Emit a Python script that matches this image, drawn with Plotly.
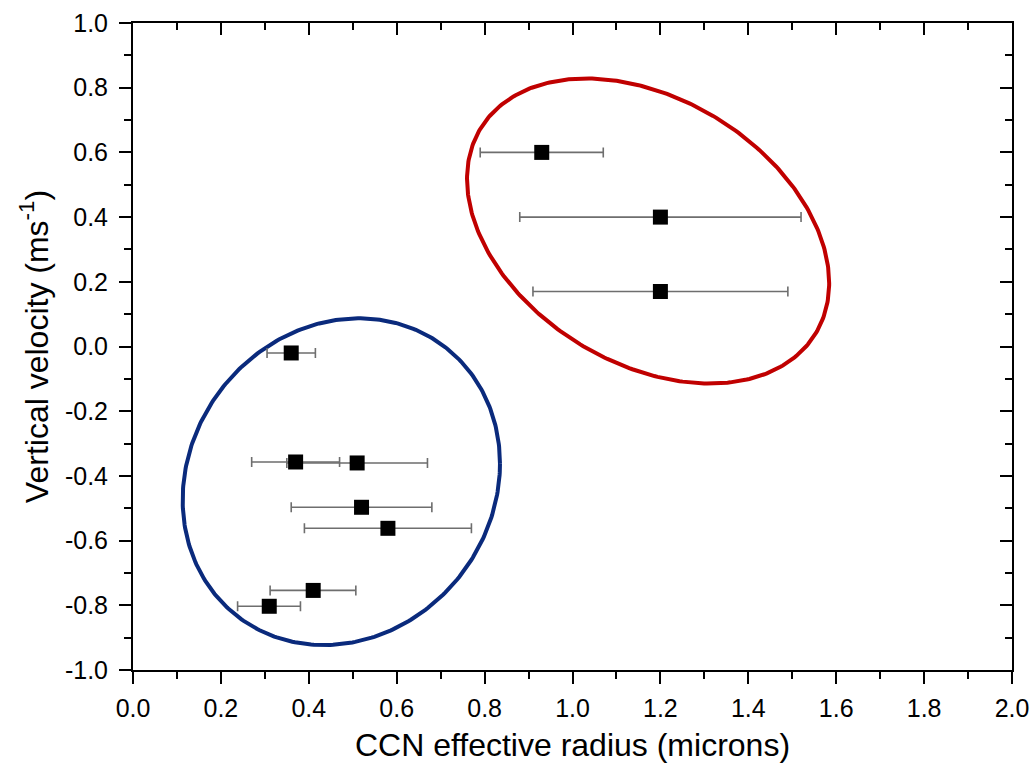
import numpy as np
import plotly.graph_objects as go

# CCN effective radius (microns) and vertical velocity (m/s) per case
radius = [0.93, 1.20, 1.20, 0.36, 0.37, 0.51, 0.52, 0.58, 0.41, 0.31]
velocity = [0.60, 0.40, 0.17, -0.02, -0.357, -0.36, -0.497, -0.562, -0.754, -0.803]
# lower / upper bounds of the radius range
radius_low = [0.79, 0.88, 0.91, 0.305, 0.27, 0.35, 0.36, 0.39, 0.312, 0.238]
radius_high = [1.07, 1.52, 1.49, 0.415, 0.47, 0.67, 0.68, 0.77, 0.507, 0.381]

# group outlines: centre, half-widths and shear (data units)
updraft_group = dict(xc=1.172, yc=0.357, rx=0.412, ry=0.443, shear=-0.161, color="#C00000")
downdraft_group = dict(xc=0.474, yc=-0.418, rx=0.361, ry=0.502, shear=0.056, color="#0A2A7C")

x_ticks = [0.0, 0.2, 0.4, 0.6, 0.8, 1.0, 1.2, 1.4, 1.6, 1.8, 2.0]
y_ticks = [-1.0, -0.8, -0.6, -0.4, -0.2, 0.0, 0.2, 0.4, 0.6, 0.8, 1.0]

FONT = "Liberation Sans, Arial, sans-serif"

err_plus = [h - x for h, x in zip(radius_high, radius)]
err_minus = [x - l for l, x in zip(radius_low, radius)]

fig = go.Figure()


def outline(g):
    t = np.linspace(0, 2 * np.pi, 361)
    xs = g["xc"] + g["rx"] * np.cos(t)
    ys = g["yc"] + g["ry"] * np.sin(t) + g["shear"] * np.cos(t)
    return go.Scatter(x=xs, y=ys, mode="lines", line=dict(color=g["color"], width=4),
                      hoverinfo="skip", showlegend=False)


fig.add_trace(outline(updraft_group))
fig.add_trace(outline(downdraft_group))

fig.add_trace(go.Scatter(
    x=radius, y=velocity, mode="markers",
    marker=dict(symbol="square", size=15, color="black", line=dict(width=0)),
    error_x=dict(type="data", array=err_plus, arrayminus=err_minus, symmetric=False,
                 color="#6E6E6E", thickness=1.6, width=5),
    showlegend=False,
))

# invisible trace so the mirrored (top/right) axes are drawn
fig.add_trace(go.Scatter(x=[None], y=[None], xaxis="x2", yaxis="y2",
                         showlegend=False, hoverinfo="skip"))

axis_common = dict(showgrid=False, zeroline=False, showline=True, linecolor="black",
                   linewidth=2, tickcolor="black", tickwidth=2, automargin=False)

fig.update_layout(
    width=1035, height=773,
    margin=dict(l=133, r=23, t=23, b=103),
    paper_bgcolor="white", plot_bgcolor="white",
    font=dict(family=FONT, color="black"),
    xaxis=dict(range=[0, 2], tickvals=x_ticks, ticktext=[f"{v:.1f}" for v in x_ticks],
               ticks="outside", ticklen=12, ticklabelstandoff=3,
               minor=dict(dtick=0.1, ticks="outside", ticklen=7, tickcolor="black", tickwidth=2),
               tickfont=dict(size=25, family=FONT),
               title=dict(text="CCN effective radius (microns)", font=dict(size=32, family=FONT),
                          standoff=13),
               **axis_common),
    yaxis=dict(range=[-1, 1], tickvals=y_ticks, ticktext=[f"{v:.1f}" for v in y_ticks],
               ticks="outside", ticklen=12, ticklabelstandoff=6,
               minor=dict(dtick=0.1, ticks="outside", ticklen=7, tickcolor="black", tickwidth=2),
               tickfont=dict(size=25, family=FONT),
               title=dict(text="Vertical velocity (ms<sup>-1</sup>)", font=dict(size=32, family=FONT),
                          standoff=7),
               **axis_common),
    xaxis2=dict(range=[0, 2], overlaying="x", side="top", anchor="y2", tickvals=x_ticks,
                showticklabels=False, ticks="inside", ticklen=12,
                minor=dict(dtick=0.1, ticks="inside", ticklen=7, tickcolor="black", tickwidth=2),
                **axis_common),
    yaxis2=dict(range=[-1, 1], overlaying="y", side="right", anchor="x2", tickvals=y_ticks,
                showticklabels=False, ticks="inside", ticklen=12,
                minor=dict(dtick=0.1, ticks="inside", ticklen=7, tickcolor="black", tickwidth=2),
                **axis_common),
)

fig.write_html("out.html")
